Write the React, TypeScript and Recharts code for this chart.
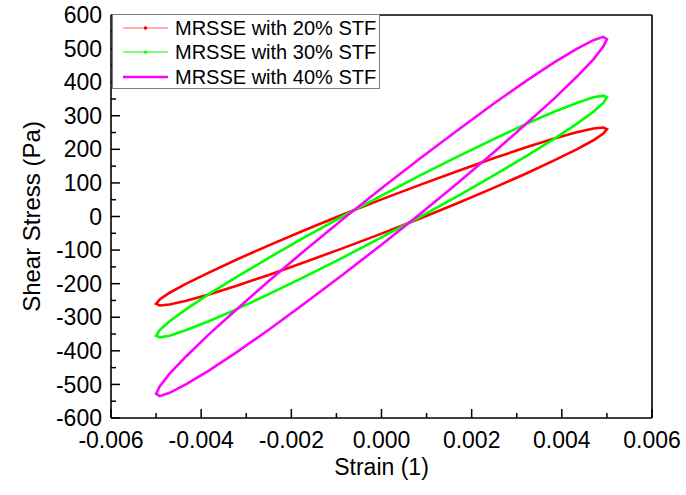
import { ScatterChart, Scatter, XAxis, YAxis, Legend, Label } from "recharts";

const FONT = '"Liberation Sans", Arial, sans-serif';

// strain amplitude sweep, shared by the three loops
const STRAIN = [
  0, 0.000868, 0.00171, 0.0025, 0.00321, 0.00383, 0.00433, 0.0047, 0.00492, 0.005,
  0.00492, 0.0047, 0.00433, 0.00383, 0.00321, 0.0025, 0.00171, 0.000868, 0,
  -0.000868, -0.00171, -0.0025, -0.00321, -0.00383, -0.00433, -0.0047, -0.00492, -0.005,
  -0.00492, -0.0047, -0.00433, -0.00383, -0.00321, -0.0025, -0.00171, -0.000868,
];

const STRESS_20 = [
  51, 95, 136, 174, 206, 232, 251, 262, 265, 260,
  247, 227, 200, 167, 128, 86, 41, -5, -51,
  -95, -136, -174, -206, -232, -251, -262, -265,
  -260, -247, -227, -200, -167, -128, -86, -41, 5,
];

const STRESS_30 = [
  62, 123, 180, 231, 276, 312, 338, 355, 360, 355,
  338, 312, 276, 231, 180, 123, 62, 0, -62,
  -123, -180, -231, -276, -312, -338, -355, -360,
  -355, -338, -312, -276, -231, -180, -123, -62, 0,
];

const STRESS_40 = [
  84, 174, 259, 337, 404, 459, 499, 525, 535, 528,
  506, 468, 416, 351, 276, 192, 102, 9, -84,
  -174, -259, -337, -404, -459, -499, -525, -535,
  -528, -506, -468, -416, -351, -276, -192, -102, -9,
];

const SERIES_NAMES = ["MRSSE with 20% STF", "MRSSE with 30% STF", "MRSSE with 40% STF"];
const SERIES_COLORS = ["#ff0000", "#00ff00", "#ff00ff"];

const X_TICKS = [
  -0.006, -0.005, -0.004, -0.003, -0.002, -0.001, 0, 0.001, 0.002, 0.003, 0.004, 0.005, 0.006,
];
const Y_TICKS = [
  -600, -550, -500, -450, -400, -350, -300, -250, -200, -150, -100, -50, 0,
  50, 100, 150, 200, 250, 300, 350, 400, 450, 500, 550, 600,
];

const toLoop = (stress: number[]) => {
  const pts = STRAIN.map((x, i) => ({ x, y: stress[i] }));
  return [...pts, pts[0]];
};

const loops = [toLoop(STRESS_20), toLoop(STRESS_30), toLoop(STRESS_40)];

const TICK_FONT = 23;
const X_GAP = 14;
const Y_GAP = 9;
const MAJOR = 9;
const MINOR = 5;

function BottomTick(props: any) {
  const { x, y, payload } = props;
  const v = payload.value as number;
  const major = Math.round(v * 1000) % 2 === 0;
  const axisY = y - X_GAP;
  return (
    <g>
      <line x1={x} x2={x} y1={axisY} y2={axisY - (major ? MAJOR : MINOR)} stroke="#000" strokeWidth={1.5} />
      {major && (
        <text x={x} y={y} dy="0.71em" textAnchor="middle" fontSize={TICK_FONT} fontFamily={FONT} fill="#000">
          {v.toFixed(3)}
        </text>
      )}
    </g>
  );
}

function TopTick(props: any) {
  const { x, y, payload } = props;
  const major = Math.round((payload.value as number) * 1000) % 2 === 0;
  return <line x1={x} x2={x} y1={y} y2={y + (major ? MAJOR : MINOR)} stroke="#000" strokeWidth={1.5} />;
}

function LeftTick(props: any) {
  const { x, y, payload } = props;
  const v = payload.value as number;
  const major = v % 100 === 0;
  const axisX = x + Y_GAP;
  return (
    <g>
      <line x1={axisX} x2={axisX + (major ? MAJOR : MINOR)} y1={y} y2={y} stroke="#000" strokeWidth={1.5} />
      {major && (
        <text x={x} y={y} dy="0.355em" textAnchor="end" fontSize={TICK_FONT} fontFamily={FONT} fill="#000">
          {String(v)}
        </text>
      )}
    </g>
  );
}

function LegendBox() {
  return (
    <div
      style={{
        width: 266,
        height: 72,
        paddingTop: 1,
        boxSizing: "content-box",
        border: "1px solid #7f7f7f",
        background: "#fff",
        fontFamily: FONT,
        fontSize: 20,
        color: "#000",
      }}
    >
      {SERIES_NAMES.map((name, i) => (
        <div key={name} style={{ display: "flex", alignItems: "center", height: 24.3 }}>
          <svg width={62} height={20} style={{ flex: "none" }}>
            <line
              x1={10}
              x2={55}
              y1={10}
              y2={10}
              stroke={SERIES_COLORS[i]}
              strokeOpacity={i === 0 ? 0.6 : 1}
              strokeWidth={i === 2 ? 2.5 : 1.2}
            />
            {i === 0 && <circle cx={32.5} cy={10} r={1.8} fill={SERIES_COLORS[i]} />}
            {i === 1 && <path d="M32.5 8 L34.6 11.6 L30.4 11.6 Z" fill={SERIES_COLORS[i]} />}
          </svg>
          <span style={{ whiteSpace: "nowrap", lineHeight: "22px" }}>{name}</span>
        </div>
      ))}
    </div>
  );
}

const hiddenShape = () => <g />;

export default function App() {
  return (
    <div style={{ position: "fixed", left: 0, top: 0, background: "#fff" }}>
      <ScatterChart width={686} height={495} margin={{ top: 14, right: 33, bottom: 37, left: 0 }}>
        <XAxis
          type="number"
          dataKey="x"
          domain={[-0.006, 0.006]}
          ticks={X_TICKS}
          interval={0}
          height={40}
          tickSize={0}
          tickMargin={X_GAP}
          tickLine={false}
          tick={BottomTick}
          axisLine={{ stroke: "#000", strokeWidth: 1.6 }}
        >
          <Label
            value="Strain (1)"
            position="bottom"
            offset={1}
            style={{ fontSize: 23, fontFamily: FONT, fill: "#000" }}
          />
        </XAxis>
        <XAxis
          xAxisId="top"
          orientation="top"
          type="number"
          domain={[-0.006, 0.006]}
          ticks={X_TICKS}
          interval={0}
          height={1}
          tickSize={0}
          tickMargin={0}
          tickLine={false}
          tick={TopTick}
          axisLine={{ stroke: "#000", strokeWidth: 1.6 }}
        />
        <YAxis
          type="number"
          dataKey="y"
          domain={[-600, 600]}
          ticks={Y_TICKS}
          interval={0}
          width={111}
          tickSize={0}
          tickMargin={Y_GAP}
          tickLine={false}
          tick={LeftTick}
          axisLine={{ stroke: "#000", strokeWidth: 1.6 }}
        >
          <Label
            value="Shear Stress (Pa)"
            angle={-90}
            position="insideLeft"
            offset={31}
            style={{ fontSize: 24, fontFamily: FONT, fill: "#000", textAnchor: "middle" }}
          />
        </YAxis>
        <YAxis
          yAxisId="right"
          orientation="right"
          type="number"
          domain={[-600, 600]}
          width={1}
          tick={false}
          tickLine={false}
          axisLine={{ stroke: "#000", strokeWidth: 1.6 }}
        />
        <Legend
          layout="vertical"
          align="center"
          verticalAlign="middle"
          wrapperStyle={{ left: 112, top: 14, width: "auto" }}
          content={() => <LegendBox />}
        />
        {loops.map((data, i) => (
          <Scatter
            key={SERIES_NAMES[i]}
            name={SERIES_NAMES[i]}
            data={data}
            line={{ stroke: SERIES_COLORS[i], strokeWidth: 2.6 }}
            shape={hiddenShape}
            isAnimationActive={false}
          />
        ))}
      </ScatterChart>
    </div>
  );
}
